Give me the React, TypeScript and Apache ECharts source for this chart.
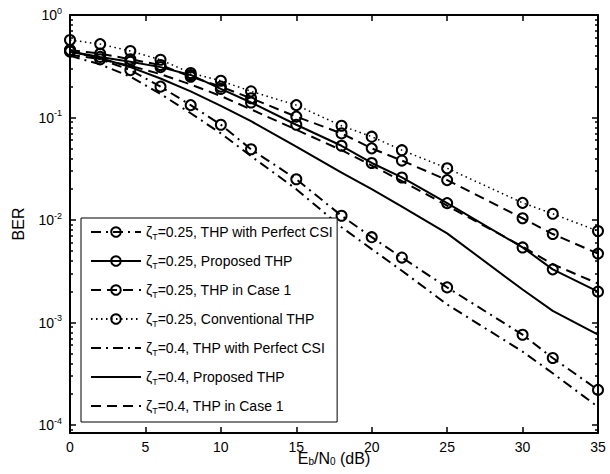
import React, { useEffect, useRef } from "react";
import * as echarts from "echarts";

const XS = [0, 2, 4, 6, 8, 10, 12, 15, 18, 20, 22, 25, 30, 32, 35];

const SERIES_NAMES = [
  "ζT=0.25, THP with Perfect CSI",
  "ζT=0.25, Proposed THP",
  "ζT=0.25, THP in Case 1",
  "ζT=0.25, Conventional THP",
  "ζT=0.4, THP with Perfect CSI",
  "ζT=0.4, Proposed THP",
  "ζT=0.4, THP in Case 1",
];

const perfect025 = [0.45, 0.37, 0.29, 0.2, 0.132, 0.085, 0.049, 0.025, 0.011, 0.0068, 0.0043, 0.0022, 0.00076, 0.00045, 0.00022];
const proposed025 = [0.44, 0.39, 0.35, 0.31, 0.26, 0.19, 0.14, 0.085, 0.053, 0.036, 0.026, 0.0146, 0.0054, 0.0033, 0.002];
const case1025 = [0.456, 0.42, 0.37, 0.325, 0.25, 0.2, 0.154, 0.102, 0.07, 0.05, 0.038, 0.0245, 0.0104, 0.0073, 0.0047];
const conventional025 = [0.57, 0.52, 0.445, 0.366, 0.272, 0.228, 0.18, 0.132, 0.083, 0.065, 0.048, 0.032, 0.0147, 0.0115, 0.0078];
const perfect04 = [0.4, 0.33, 0.25, 0.17, 0.11, 0.07, 0.042, 0.02, 0.0085, 0.0052, 0.0032, 0.0015, 0.00052, 0.00032, 0.00015];
const proposed04 = [0.44, 0.38, 0.31, 0.24, 0.18, 0.13, 0.092, 0.052, 0.029, 0.02, 0.0135, 0.0074, 0.0021, 0.0013, 0.00076];
const case104 = [0.41, 0.37, 0.32, 0.265, 0.21, 0.162, 0.12, 0.076, 0.048, 0.034, 0.024, 0.0138, 0.0055, 0.0037, 0.0024];

const X_TICKS = [0, 5, 10, 15, 20, 25, 30, 35];
const Y_MAJOR = [1e-4, 1e-3, 1e-2, 1e-1, 1];
const Y_MINOR: number[] = [];
for (let e = -5; e < 0; e++) {
  for (let m = 2; m <= 9; m++) Y_MINOR.push(m * Math.pow(10, e));
}

const Y_MIN = Math.pow(10, -4.078);
const Y_MAX = 1;

const FONT = "Liberation Sans";

const DASHED = [10, 6];
const DASHDOT = [10, 5, 2, 5];
const DOTTED = [1.5, 3.5];

export default function App() {
  const ref = useRef<HTMLDivElement>(null);
  useEffect(() => {
    if (!ref.current) return;
    const chart = echarts.init(ref.current, null, { renderer: "svg" });
    const mk = (vals: number[]) => XS.map((x, i) => [x, vals[i]]);
    const marker = {
      color: "rgba(0,0,0,0)",
      borderColor: "#000",
      borderWidth: 2,
    };
    const lineSeries = (
      name: string,
      vals: number[],
      type: any,
      withSymbol: boolean,
      width = 2
    ) => ({
      name,
      type: "line",
      data: mk(vals),
      symbol: withSymbol ? "circle" : "none",
      symbolSize: 10,
      showSymbol: withSymbol,
      itemStyle: withSymbol ? marker : { color: "rgba(0,0,0,0)", borderWidth: 0 },
      lineStyle: { color: "#000", width, type },
      emphasis: { disabled: true },
    });

    const yAxisBase = (position: string, major: boolean, showLine: boolean, labels: boolean) => ({
      type: "log",
      logBase: 10,
      min: Y_MIN,
      max: Y_MAX,
      position,
      axisLine: { show: showLine, onZero: false, lineStyle: { color: "#000", width: 2 } },
      axisTick: {
        show: true,
        inside: true,
        length: major ? 6 : 3,
        lineStyle: { color: "#000", width: 1.5 },
        customValues: major ? Y_MAJOR : Y_MINOR,
      },
      axisLabel: labels
        ? {
            show: true,
            customValues: Y_MAJOR,
            margin: 8,
            formatter: (v: number) => {
              const e = Math.round(Math.log10(v));
              return `{b|10}{s|${e}}`;
            },
            rich: {
              b: { fontSize: 14, fontFamily: FONT, color: "#000", lineHeight: 18 },
              s: { fontSize: 9, fontFamily: FONT, color: "#000", lineHeight: 9, verticalAlign: "top" },
            },
          }
        : { show: false },
      splitLine: { show: false },
      minorTick: { show: false },
      minorSplitLine: { show: false },
    });

    const xAxisBase = (position: string, labels: boolean) => ({
      type: "value",
      min: 0,
      max: 35,
      interval: 5,
      position,
      axisLine: { show: true, onZero: false, lineStyle: { color: "#000", width: 2 } },
      axisTick: { show: true, inside: true, length: 6, lineStyle: { color: "#000", width: 1.5 } },
      axisLabel: labels
        ? { show: true, fontSize: 14, fontFamily: FONT, color: "#000", margin: 7, customValues: X_TICKS }
        : { show: false },
      splitLine: { show: false },
    });

    const option: any = {
      animation: false,
      backgroundColor: "#fff",
      grid: { left: 70, right: 12, top: 15, bottom: 41, containLabel: false, outerBoundsMode: "none" },
      xAxis: [
        {
          ...xAxisBase("bottom", true),
          name: "{a|E}{s|b}{a|/N}{s|0}{a| (dB)}",
          nameLocation: "middle",
          nameGap: 17,
          nameMoveOverlap: false,
          nameTextStyle: {
            rich: {
              a: { fontSize: 16, fontFamily: FONT, color: "#000", lineHeight: 16 },
              s: { fontSize: 10, fontFamily: FONT, color: "#000", lineHeight: 9, verticalAlign: "bottom" },
            },
          },
        },
        xAxisBase("top", false),
      ],
      yAxis: [
        {
          ...yAxisBase("left", true, true, true),
          name: "BER",
          nameLocation: "middle",
          nameGap: 44,
          nameRotate: 90,
          nameMoveOverlap: false,
          nameTextStyle: { fontSize: 16, fontFamily: FONT, color: "#000" },
        },
        yAxisBase("left", false, false, false),
        yAxisBase("right", true, true, false),
        yAxisBase("right", false, false, false),
      ],
      legend: {
        show: true,
        orient: "vertical",
        left: 81,
        top: 218,
        padding: [7, 4, 7, 9],
        itemGap: 13,
        itemWidth: 50,
        itemHeight: 12,
        backgroundColor: "#fff",
        borderColor: "#000",
        borderWidth: 1,
        borderRadius: 0,
        data: SERIES_NAMES,
        formatter: (name: string) => {
          const rest = name.replace("ζT", "");
          return `{a|ζ}{s|T}{a|${rest}}`;
        },
        textStyle: {
          rich: {
            a: { fontSize: 14, fontFamily: FONT, color: "#000", lineHeight: 18 },
            s: { fontSize: 9, fontFamily: FONT, color: "#000", lineHeight: 9, verticalAlign: "bottom" },
          },
        },
      },
      series: [
        lineSeries(SERIES_NAMES[0], perfect025, DASHDOT, true),
        lineSeries(SERIES_NAMES[1], proposed025, "solid", true),
        lineSeries(SERIES_NAMES[2], case1025, DASHED, true),
        lineSeries(SERIES_NAMES[3], conventional025, DOTTED, true, 1.5),
        lineSeries(SERIES_NAMES[4], perfect04, DASHDOT, false),
        lineSeries(SERIES_NAMES[5], proposed04, "solid", false),
        lineSeries(SERIES_NAMES[6], case104, DASHED, false),
      ],
    };
    chart.setOption(option);
    return () => chart.dispose();
  }, []);
  return <div ref={ref} style={{ width: 610, height: 474, position: "absolute", left: 0, top: 0 }} />;
}
